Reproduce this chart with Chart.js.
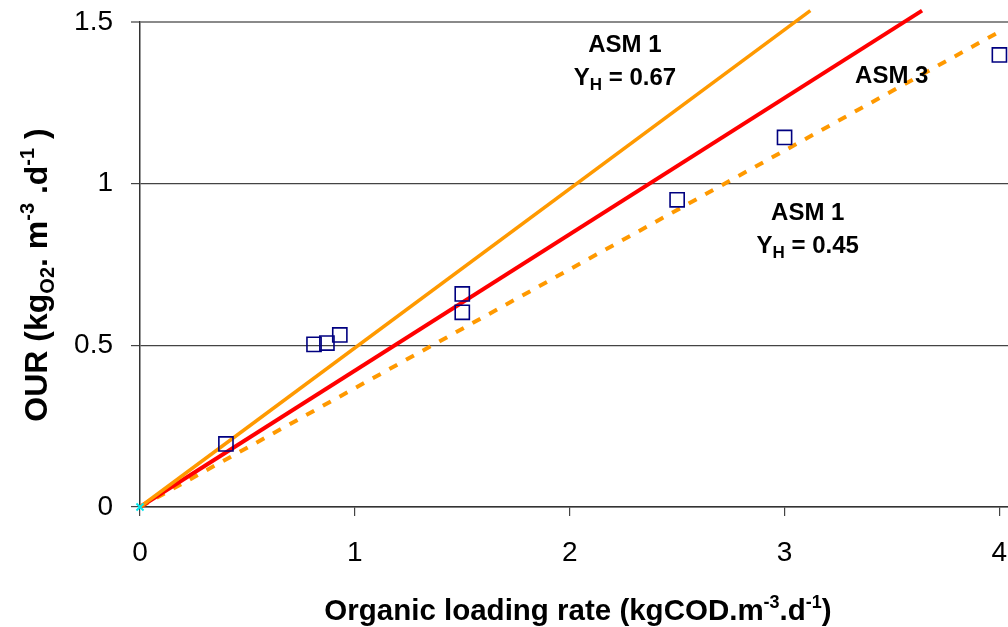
<!DOCTYPE html>
<html>
<head>
<meta charset="utf-8">
<script src="https://cdn.jsdelivr.net/npm/chart.js@4.4.1/dist/chart.umd.min.js"></script>
<style>
  html, body { margin: 0; background: #fff; }
  #wrap { width: 1008px; height: 627px; }
</style>
</head>
<body>
<div id="wrap"><canvas id="grafica"></canvas></div>
<script>
// measured points
const loadingRate = [0.4, 0.81, 0.87, 0.93, 1.5, 1.5, 2.5, 3.0, 4.0];
const ourMeasured = [0.195, 0.503, 0.507, 0.532, 0.659, 0.602, 0.95, 1.143, 1.398];

// model lines (start / end)
const asm1HighX = [0, 3.12];
const asm1HighY = [0, 1.535];
const asm3X = [0, 3.64];
const asm3Y = [0, 1.535];
const asm1LowX = [0, 4.0];
const asm1LowY = [0, 1.47];

const originX = [0];
const originY = [0];

const xTicks = [0, 1, 2, 3, 4];
const yTicks = [0, 0.5, 1, 1.5];

const FONT = "'Liberation Sans', Arial, Helvetica, sans-serif";

const pares = (xs, ys) => xs.map((x, i) => ({ x, y: ys[i] }));

// texto con subindices / superindices: [texto, tipo] tipo 0 normal, 1 sub, 2 sup
function textoRico(ctx, segs, size, x, y, esc = 0.62) {
  const small = Math.round(size * esc);
  let w = 0;
  segs.forEach(([t, k]) => {
    ctx.font = `bold ${k ? small : size}px ${FONT}`;
    w += ctx.measureText(t).width;
  });
  let cx = x - w / 2;
  segs.forEach(([t, k]) => {
    ctx.font = `bold ${k ? small : size}px ${FONT}`;
    const dy = k === 1 ? size * 0.22 : k === 2 ? -size * 0.42 : 0;
    ctx.fillText(t, cx, y + dy);
    cx += ctx.measureText(t).width;
  });
}

const notas = [
  { x: 2.257, y: 1.407, segs: [["ASM 1", 0]] },
  { x: 2.257, y: 1.305, segs: [["Y", 0], ["H", 1], [" = 0.67", 0]] },
  { x: 3.499, y: 1.311, segs: [["ASM 3", 0]] },
  { x: 3.108, y: 0.888, segs: [["ASM 1", 0]] },
  { x: 3.108, y: 0.786, segs: [["Y", 0], ["H", 1], [" = 0.45", 0]] }
];

const textos = {
  id: "textos",
  afterDraw(chart) {
    const ctx = chart.ctx;
    const sx = chart.scales.x, sy = chart.scales.y;
    ctx.save();
    ctx.fillStyle = "#000";
    ctx.textAlign = "left";
    ctx.textBaseline = "alphabetic";

    notas.forEach(n => {
      textoRico(ctx, n.segs, 24, sx.getPixelForValue(n.x), sy.getPixelForValue(n.y), 0.72);
    });

    // titulo eje x
    textoRico(ctx, [
      ["Organic loading rate (kgCOD.m", 0], ["-3", 2], [".d", 0], ["-1", 2], [")", 0]
    ], 29.5, 578, 620);

    // titulo eje y
    ctx.translate(47, 275);
    ctx.rotate(-Math.PI / 2);
    textoRico(ctx, [
      ["OUR (kg", 0], ["O2", 1], [". m", 0], ["-3", 2], [" .d", 0], ["-1", 2], [" )", 0]
    ], 32, 0, 0);
    ctx.restore();
  }
};

const sinPadding = s => {
  s.paddingTop = 0; s.paddingBottom = 0; s.paddingLeft = 0; s.paddingRight = 0;
};

new Chart(document.getElementById("grafica"), {
  type: "scatter",
  data: {
    datasets: [
      {
        label: "origin",
        data: pares(originX, originY),
        pointStyle: "crossRot",
        pointRadius: 5,
        borderColor: "#00e8f0",
        borderWidth: 2,
        clip: false
      },
      {
        label: "Measured",
        data: pares(loadingRate, ourMeasured),
        pointStyle: "rect",
        pointRadius: 10,
        borderColor: "#000080",
        backgroundColor: "rgba(0,0,0,0)",
        borderWidth: 1.6,
        clip: false
      },
      {
        label: "ASM 1 YH=0.67",
        data: pares(asm1HighX, asm1HighY),
        showLine: true,
        borderColor: "#ff9900",
        borderWidth: 3.5,
        pointRadius: 0,
        clip: false
      },
      {
        label: "ASM 3",
        data: pares(asm3X, asm3Y),
        showLine: true,
        borderColor: "#ff0000",
        borderWidth: 4,
        pointRadius: 0,
        clip: false
      },
      {
        label: "ASM 1 YH=0.45",
        data: pares(asm1LowX, asm1LowY),
        showLine: true,
        borderColor: "#ff9900",
        borderWidth: 4,
        borderDash: [9, 10],
        pointRadius: 0,
        clip: false
      }
    ]
  },
  options: {
    responsive: true,
    maintainAspectRatio: false,
    animation: false,
    layout: { autoPadding: false, padding: { top: 22, left: 0, right: 0, bottom: 0 } },
    plugins: {
      legend: { display: false },
      tooltip: { enabled: false },
      title: { display: false }
    },
    scales: {
      x: {
        type: "linear",
        min: 0,
        max: 4.04,
        afterBuildTicks: s => { s.ticks = xTicks.map(v => ({ value: v })); },
        afterFit: s => { s.height = 120; sinPadding(s); },
        grid: { drawOnChartArea: false, drawTicks: true, tickLength: 9, color: "#444", lineWidth: 1.2 },
        border: { color: "#333", width: 1.5 },
        ticks: {
          color: "#000",
          font: { family: FONT, size: 28 },
          padding: 20,
          maxRotation: 0,
          autoSkip: false,
          callback: v => String(v)
        }
      },
      y: {
        type: "linear",
        min: 0,
        max: 1.5,
        afterBuildTicks: s => { s.ticks = yTicks.map(v => ({ value: v })); },
        afterFit: s => { s.width = 140; sinPadding(s); },
        grid: {
          tickLength: 9,
          color: c => (c.tick && c.tick.value === 1.5) ? "#8a8a8a" : "#444",
          lineWidth: c => (c.tick && c.tick.value === 1.5) ? 2 : 1.2
        },
        border: { color: "#333", width: 1.5 },
        ticks: {
          color: "#000",
          font: { family: FONT, size: 28 },
          padding: 18,
          callback: v => String(v)
        }
      }
    }
  },
  plugins: [textos]
});
</script>
</body>
</html>
